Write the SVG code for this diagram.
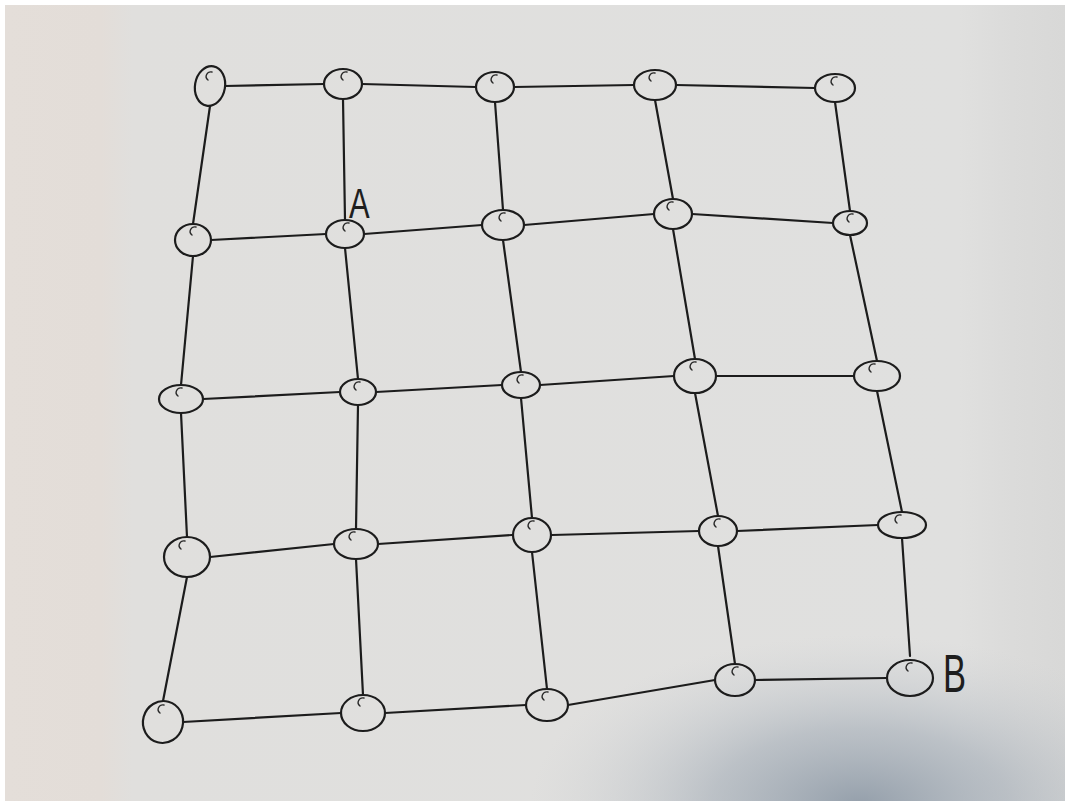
<svg xmlns="http://www.w3.org/2000/svg" width="1069" height="805" viewBox="0 0 1069 805">
  <defs>
    <linearGradient id="paper" x1="0" y1="0" x2="1" y2="0">
      <stop offset="0" stop-color="#e4ded9"/>
      <stop offset="0.09" stop-color="#e3ddd8"/>
      <stop offset="0.12" stop-color="#e0dfdd"/>
      <stop offset="0.9" stop-color="#e0e0df"/>
      <stop offset="0.95" stop-color="#dbdbda"/>
      <stop offset="1" stop-color="#d8d8d7"/>
    </linearGradient>
    <radialGradient id="shade" cx="0" cy="0" r="1" gradientUnits="userSpaceOnUse" gradientTransform="translate(860 805) scale(330 170)">
      <stop offset="0" stop-color="#8c98a5" stop-opacity="0.9"/>
      <stop offset="0.45" stop-color="#9ea8b3" stop-opacity="0.55"/>
      <stop offset="1" stop-color="#c8ccd0" stop-opacity="0"/>
    </radialGradient>
    <path id="hook" d="M3,0 C-2,-1 -5,5 -1,8"/>
  </defs>
  <style>
    .edge { stroke: #1c1c1c; stroke-width: 2.2; fill: none; stroke-linecap: round; }
    .node ellipse { stroke: #1c1c1c; stroke-width: 2.2; fill: none; }
    .node use { stroke: #2a2a2a; stroke-width: 1.4; fill: none; stroke-linecap: round; }
    .lbl { font-family: "Liberation Sans", "DejaVu Sans", sans-serif; fill: #1e1e1e; }
  </style>

  <rect x="0" y="0" width="1069" height="805" fill="#ffffff"/>
  <rect x="5" y="5" width="1060" height="796" fill="url(#paper)"/>
  <rect x="5" y="5" width="1060" height="796" fill="url(#shade)"/>

  <g id="connectors">
    <line class="edge" x1="225" y1="86" x2="324" y2="84"/>
    <line class="edge" x1="362" y1="84" x2="476" y2="87"/>
    <line class="edge" x1="514" y1="87" x2="634" y2="85"/>
    <line class="edge" x1="676" y1="85" x2="815" y2="88"/>
    <line class="edge" x1="211" y1="240" x2="326" y2="234"/>
    <line class="edge" x1="364" y1="234" x2="482" y2="225"/>
    <line class="edge" x1="524" y1="225" x2="654" y2="214"/>
    <line class="edge" x1="692" y1="214" x2="833" y2="223"/>
    <line class="edge" x1="203" y1="399" x2="340" y2="392"/>
    <line class="edge" x1="376" y1="392" x2="502" y2="385"/>
    <line class="edge" x1="540" y1="385" x2="674" y2="376"/>
    <line class="edge" x1="716" y1="376" x2="854" y2="376"/>
    <line class="edge" x1="210" y1="557" x2="334" y2="544"/>
    <line class="edge" x1="378" y1="544" x2="512" y2="535"/>
    <line class="edge" x1="552" y1="535" x2="699" y2="531"/>
    <line class="edge" x1="737" y1="531" x2="878" y2="525"/>
    <line class="edge" x1="183" y1="722" x2="341" y2="713"/>
    <line class="edge" x1="385" y1="713" x2="526" y2="705"/>
    <line class="edge" x1="568" y1="705" x2="715" y2="680"/>
    <line class="edge" x1="755" y1="680" x2="887" y2="678"/>

    <line class="edge" x1="210" y1="106" x2="193" y2="224"/>
    <line class="edge" x1="193" y1="256" x2="181" y2="385"/>
    <line class="edge" x1="181" y1="413" x2="187" y2="537"/>
    <line class="edge" x1="187" y1="577" x2="163" y2="701"/>
    <line class="edge" x1="343" y1="99" x2="345" y2="220"/>
    <line class="edge" x1="345" y1="248" x2="358" y2="379"/>
    <line class="edge" x1="358" y1="405" x2="356" y2="529"/>
    <line class="edge" x1="356" y1="559" x2="363" y2="695"/>
    <line class="edge" x1="495" y1="102" x2="503" y2="210"/>
    <line class="edge" x1="503" y1="240" x2="521" y2="372"/>
    <line class="edge" x1="521" y1="398" x2="532" y2="518"/>
    <line class="edge" x1="532" y1="552" x2="547" y2="689"/>
    <line class="edge" x1="655" y1="100" x2="673" y2="199"/>
    <line class="edge" x1="673" y1="229" x2="695" y2="359"/>
    <line class="edge" x1="695" y1="393" x2="718" y2="516"/>
    <line class="edge" x1="718" y1="546" x2="735" y2="664"/>
    <line class="edge" x1="835" y1="102" x2="850" y2="211"/>
    <line class="edge" x1="850" y1="235" x2="877" y2="361"/>
    <line class="edge" x1="877" y1="391" x2="902" y2="512"/>
    <line class="edge" x1="902" y1="538" x2="910" y2="656"/>
  </g>

  <g id="n11" class="node"><ellipse cx="210" cy="86" rx="15" ry="20" transform="rotate(10 210 86)"/><use href="#hook" x="209" y="72"/></g>
  <g id="n12" class="node"><ellipse cx="343" cy="84" rx="19" ry="15"/><use href="#hook" x="344" y="72"/></g>
  <g id="n13" class="node"><ellipse cx="495" cy="87" rx="19" ry="15"/><use href="#hook" x="494" y="75"/></g>
  <g id="n14" class="node"><ellipse cx="655" cy="85" rx="21" ry="15"/><use href="#hook" x="652" y="73"/></g>
  <g id="n15" class="node"><ellipse cx="835" cy="88" rx="20" ry="14"/><use href="#hook" x="834" y="77"/></g>

  <g id="n21" class="node"><ellipse cx="193" cy="240" rx="18" ry="16"/><use href="#hook" x="193" y="227"/></g>
  <g id="n22" class="node"><ellipse cx="345" cy="234" rx="19" ry="14"/><use href="#hook" x="346" y="223"/></g>
  <g id="n23" class="node"><ellipse cx="503" cy="225" rx="21" ry="15"/><use href="#hook" x="502" y="213"/></g>
  <g id="n24" class="node"><ellipse cx="673" cy="214" rx="19" ry="15"/><use href="#hook" x="670" y="202"/></g>
  <g id="n25" class="node"><ellipse cx="850" cy="223" rx="17" ry="12"/><use href="#hook" x="850" y="214"/></g>

  <g id="n31" class="node"><ellipse cx="181" cy="399" rx="22" ry="14"/><use href="#hook" x="179" y="388"/></g>
  <g id="n32" class="node"><ellipse cx="358" cy="392" rx="18" ry="13"/><use href="#hook" x="357" y="382"/></g>
  <g id="n33" class="node"><ellipse cx="521" cy="385" rx="19" ry="13"/><use href="#hook" x="520" y="375"/></g>
  <g id="n34" class="node"><ellipse cx="695" cy="376" rx="21" ry="17"/><use href="#hook" x="693" y="362"/></g>
  <g id="n35" class="node"><ellipse cx="877" cy="376" rx="23" ry="15"/><use href="#hook" x="872" y="364"/></g>

  <g id="n41" class="node"><ellipse cx="187" cy="557" rx="23" ry="20"/><use href="#hook" x="182" y="541"/></g>
  <g id="n42" class="node"><ellipse cx="356" cy="544" rx="22" ry="15"/><use href="#hook" x="352" y="532"/></g>
  <g id="n43" class="node"><ellipse cx="532" cy="535" rx="19" ry="17"/><use href="#hook" x="531" y="521"/></g>
  <g id="n44" class="node"><ellipse cx="718" cy="531" rx="19" ry="15"/><use href="#hook" x="717" y="519"/></g>
  <g id="n45" class="node"><ellipse cx="902" cy="525" rx="24" ry="13"/><use href="#hook" x="898" y="515"/></g>

  <g id="n51" class="node"><ellipse cx="163" cy="722" rx="20" ry="21" transform="rotate(15 163 722)"/><use href="#hook" x="161" y="705"/></g>
  <g id="n52" class="node"><ellipse cx="363" cy="713" rx="22" ry="18"/><use href="#hook" x="361" y="698"/></g>
  <g id="n53" class="node"><ellipse cx="547" cy="705" rx="21" ry="16"/><use href="#hook" x="545" y="692"/></g>
  <g id="n54" class="node"><ellipse cx="735" cy="680" rx="20" ry="16"/><use href="#hook" x="735" y="667"/></g>
  <g id="n55" class="node"><ellipse cx="910" cy="678" rx="23" ry="18"/><use href="#hook" x="909" y="663"/></g>

  <g id="label-A"><text class="lbl" x="0" y="0" font-size="43" transform="translate(349 218) scale(0.72 1)">A</text></g>
  <g id="label-B"><text class="lbl" x="0" y="0" font-size="54" transform="translate(943 692) scale(0.64 1)">B</text></g>
</svg>
